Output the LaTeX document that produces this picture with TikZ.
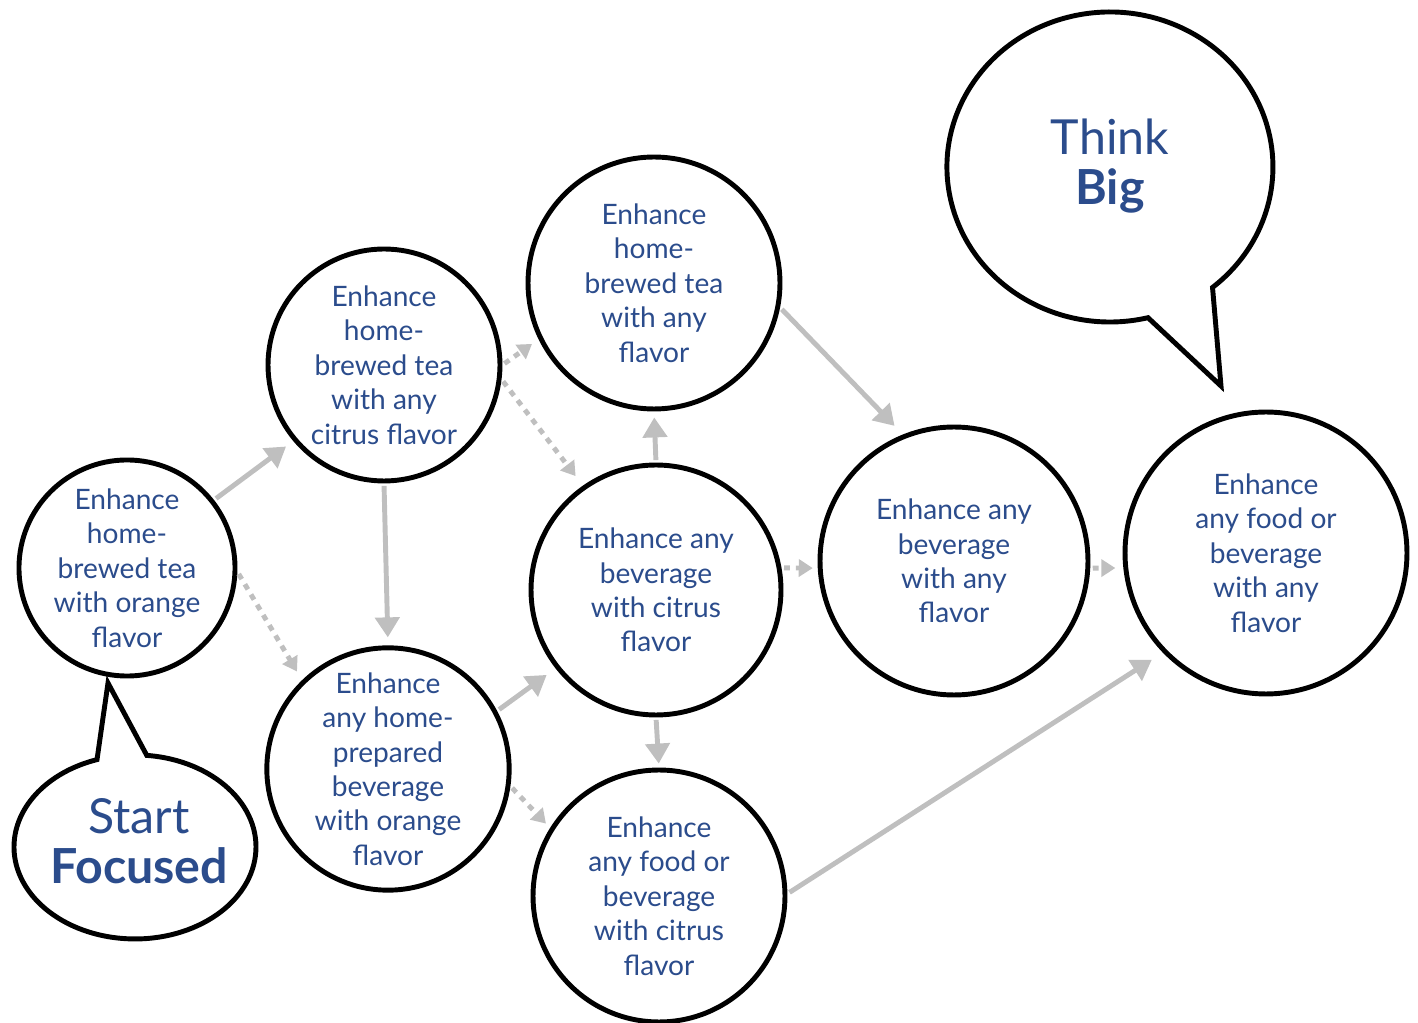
\documentclass[tikz,border=0pt]{standalone}
\usepackage{fontspec}
\setmainfont{Lato}
\usetikzlibrary{arrows.meta}
\definecolor{txtblue}{HTML}{2B4C8C}
\definecolor{arrowgray}{HTML}{BFBFBF}

\begin{document}
\begin{tikzpicture}[x=0.02cm,y=-0.02cm,
  goal/.style={circle,draw,line width=2.8pt,fill=white,text=txtblue,align=center,
    inner sep=0pt,font=\fontsize{16}{19.6}\selectfont},
  bubble/.style={draw,line width=2.8pt,fill=white,line join=miter},
  bubbletext/.style={text=txtblue,align=center,font=\fontsize{27.5}{28.4}\selectfont},
  solidarrow/.style={draw=arrowgray,line width=2.8pt,shorten <=0.05cm,
    -{Triangle[width=0.48cm,length=0.4cm]}},
  dotarrow/.style={draw=arrowgray,line width=2.8pt,dash pattern=on 3.4pt off 3.4pt,
    shorten <=0.05cm,-{Triangle[width=0.34cm,length=0.28cm]}}]
  \useasboundingbox (0,0) rectangle (1418,1023);

  % goals
  \node[goal,minimum size=4.24cm] (orangetea) at (127,568) {Enhance\\home-\\brewed tea\\with orange\\flavor};
  \node[goal,minimum size=4.64cm] (citrustea) at (384,365) {Enhance\\home-\\brewed tea\\with any\\citrus flavor};
  \node[goal,minimum size=4.64cm] (orangebev) at (388,769) {Enhance\\any home-\\prepared\\beverage\\with orange\\flavor};
  \node[goal,minimum size=5.04cm] (anytea) at (654,283) {Enhance\\home-\\brewed tea\\with any\\flavor};
  \node[goal,minimum size=5.0cm] (citrusbev) at (656,590) {Enhance any\\beverage\\with citrus\\flavor};
  \node[goal,minimum size=5.04cm] (citrusfood) at (659,896) {Enhance\\any food or\\beverage\\with citrus\\flavor};
  \node[goal,minimum size=5.36cm] (anybev) at (954,561) {Enhance any\\beverage\\with any\\flavor};
  \node[goal,minimum size=5.64cm] (anyfood) at (1266,553) {Enhance\\any food or\\beverage\\with any\\flavor};

  % speech bubbles
  \draw[bubble] (146.8,755.4) arc[start angle=275.6,end angle=611.7,x radius=121,y radius=92]
    -- (108,683) -- cycle;
  \node[bubbletext] (start) at (139,841) {Start\\\textbf{Focused}};
  \draw[bubble] (1148,317.7) arc[start angle=76.5,end angle=411,x radius=163,y radius=155]
    -- (1221,386) -- cycle;
  \node[bubbletext] (think) at (1110,166) {Think\\\textbf{Big}};

  % solid steps
  \draw[solidarrow,shorten >=0.18cm] (orangetea.38) -- (citrustea.220);
  \draw[solidarrow,shorten >=0.16cm] (citrustea.south) -- (orangebev.north);
  \draw[solidarrow,shorten >=0.22cm] (orangebev.28) -- (citrusbev.218);
  \draw[solidarrow,shorten >=0.12cm] (citrusbev.north) -- (anytea.south);
  \draw[solidarrow,shorten >=0.08cm] (citrusbev.south) -- (citrusfood.north);
  \draw[solidarrow,shorten >=0.24cm] (anytea.349) -- (anybev.112);
  \draw[solidarrow,shorten >=0.26cm] (citrusfood.1) -- (anyfood.224);

  % dotted steps
  \draw[dotarrow,shorten >=0.2cm] (orangetea.358) -- (orangebev.134);
  \draw[dotarrow,shorten >=0.16cm] (citrustea.0) -- (anytea.206);
  \draw[dotarrow,shorten >=0.24cm] (citrustea.353) -- (citrusbev.125);
  \draw[dotarrow,shorten >=0.12cm] (orangebev.352) -- (citrusfood.148);
  \draw[dotarrow,shorten >=0.1cm] (citrusbev.10) -- (anybev.183);
  \draw[dotarrow,shorten >=0.16cm] (anybev.357) -- (anyfood.186);
\end{tikzpicture}
\end{document}
